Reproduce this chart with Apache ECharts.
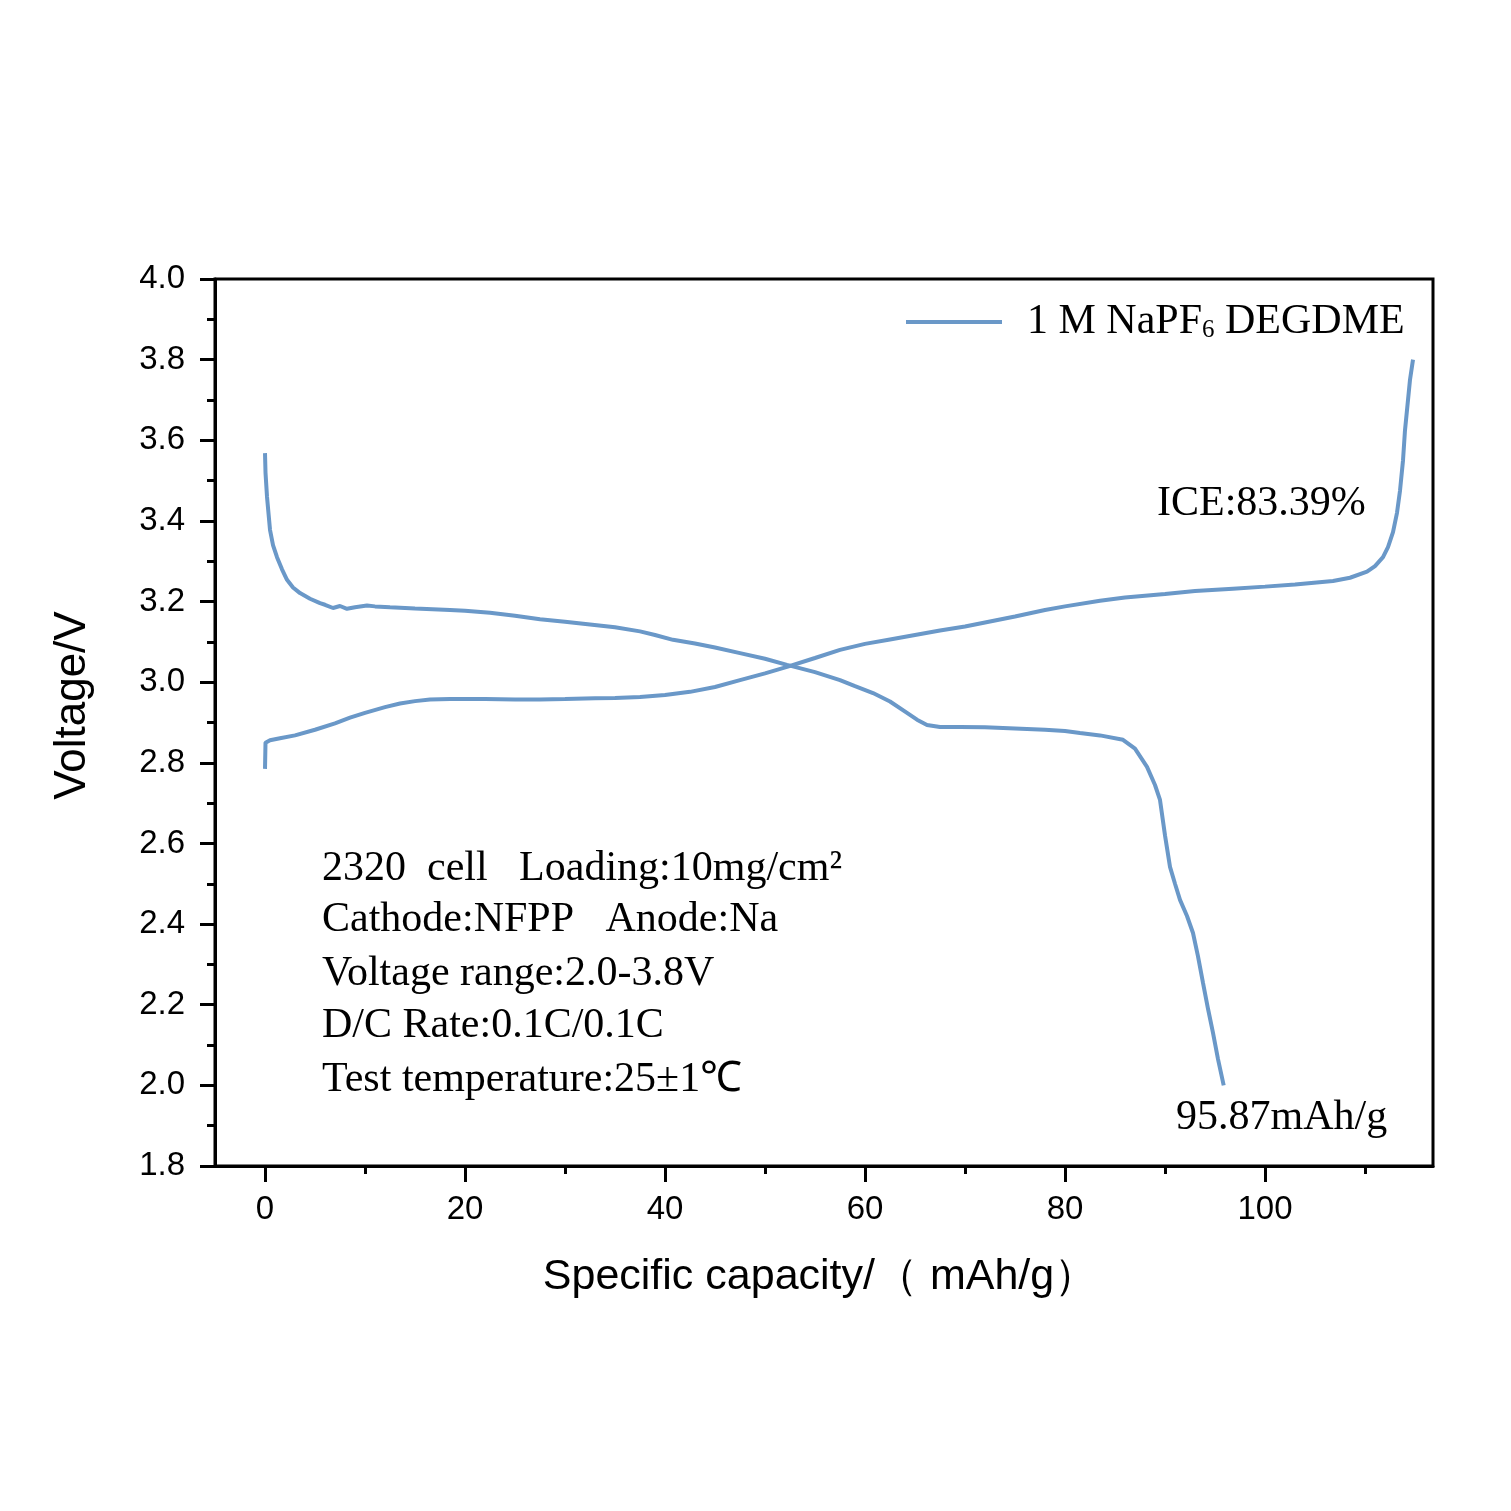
<!DOCTYPE html>
<html>
<head>
<meta charset="utf-8">
<script src="https://cdn.jsdelivr.net/npm/echarts@6/dist/echarts.min.js"></script>
<style>html,body{margin:0;padding:0;background:#fff}#c{width:1511px;height:1511px}</style>
</head>
<body>
<div id="c"></div>
<script>
// ---- data (specific capacity mAh/g, voltage V) ----
const chargeCap = [0,0.05,0.5,1.5,3,5,7,8.5,10,12,13.5,15,16.5,18.5,22,25,27.5,30,33,35,37.5,40,42.5,45,47.5,50,52.2,55,57.5,60,62.5,65,67.5,70,72,75,78,80,83.5,86,90,93,96.8,100,103,106.8,108.5,110.2,111,111.8,112.3,112.8,113.2,113.5,113.8,114,114.3,114.5,114.8];
const chargeV   = [2.785,2.85,2.856,2.861,2.868,2.882,2.898,2.912,2.924,2.938,2.947,2.953,2.957,2.958,2.958,2.957,2.957,2.958,2.960,2.961,2.963,2.968,2.976,2.988,3.005,3.022,3.038,3.060,3.080,3.095,3.106,3.117,3.128,3.138,3.148,3.163,3.179,3.188,3.202,3.210,3.219,3.226,3.232,3.237,3.242,3.251,3.259,3.274,3.288,3.31,3.335,3.372,3.42,3.475,3.55,3.625,3.70,3.75,3.80];
const dischargeCap = [0,0.05,0.2,0.5,0.8,1.2,1.7,2.2,2.8,3.5,4.5,5.5,6,6.8,7.5,8.2,9,10.2,11,12.5,15,18.5,20,22.5,25,27.5,30,32.5,35,37.5,39,40.8,43,45,47.5,50,52.2,55,57.5,59,60.8,62.5,64.2,65.2,66.2,67.5,69.5,72,75,78,80,81.5,83.5,85.8,87,88.2,89,89.5,90,90.5,91,91.5,92.2,92.8,93.3,93.8,94.3,94.8,95.3,95.87];
const dischargeV   = [3.568,3.52,3.46,3.378,3.34,3.31,3.28,3.254,3.235,3.221,3.207,3.196,3.192,3.184,3.189,3.182,3.186,3.190,3.188,3.186,3.183,3.179,3.177,3.172,3.165,3.156,3.150,3.143,3.136,3.126,3.117,3.105,3.096,3.086,3.072,3.058,3.043,3.025,3.005,2.990,2.973,2.952,2.924,2.907,2.894,2.889,2.889,2.888,2.885,2.882,2.879,2.874,2.868,2.857,2.835,2.79,2.745,2.708,2.62,2.542,2.50,2.46,2.42,2.378,2.32,2.254,2.19,2.13,2.065,2.0];
const xMajorTicks = [0,20,40,60,80,100];
const xMinorTicks = [10,30,50,70,90,110];
const seriesName = '1 M NaPF6 DEGDME';
const infoLines = ['2320  cell   Loading:10mg/cm²','Cathode:NFPP   Anode:Na','Voltage range:2.0-3.8V','D/C Rate:0.1C/0.1C','Test temperature:25±1℃'];
const iceText = 'ICE:83.39%';
const capText = '95.87mAh/g';

const color = '#6a98c8';
const zip = (a,b) => a.map((v,i)=>[v,b[i]]);
const chart = echarts.init(document.getElementById('c'));
const serif = '"Liberation Serif","Times New Roman",serif';
const sans = '"Liberation Sans",Arial,sans-serif';

const graphics = [];
const lineYs = [869,920,974,1026,1080];
infoLines.forEach((t,i)=>graphics.push({type:'text',left:322,top:lineYs[i]-21,style:{text:t,font:'42px '+serif,fill:'#000'}}));
graphics.push({type:'text',left:1157,top:504-21,style:{text:iceText,font:'42px '+serif,fill:'#000'}});
graphics.push({type:'text',left:1176,top:1118-21,style:{text:capText,font:'42px '+serif,fill:'#000'}});

chart.setOption({
  animation:false,
  backgroundColor:'#fff',
  grid:{left:215,top:279,width:1218,height:887,show:true,borderColor:'#000',borderWidth:3,backgroundColor:'transparent'},
  legend:{
    left:906, top:301, padding:0, icon:'rect', itemWidth:96, itemHeight:4,
    data:[seriesName],
    formatter: ()=> '1 M NaPF{sub|6} DEGDME',
    textStyle:{fontFamily:serif,fontSize:42,color:'#000',padding:[0,0,0,20],
      rich:{sub:{fontFamily:serif,fontSize:25,verticalAlign:'bottom',padding:[14,0,0,0]}}}
  },
  xAxis:[{
    type:'value', min:-5, max:116.8, position:'bottom',
    name:'Specific capacity/（ mAh/g）', nameLocation:'middle', nameGap:90,
    nameTextStyle:{fontFamily:sans,fontSize:43,color:'#000',padding:[0,8,0,0]},
    axisLine:{show:true,onZero:false,lineStyle:{color:'#000',width:3}},
    axisTick:{show:true,inside:false,length:16,lineStyle:{width:3,color:'#000'},customValues:xMajorTicks},
    axisLabel:{show:true,margin:27,fontFamily:sans,fontSize:33,color:'#000',customValues:xMajorTicks},
    splitLine:{show:false}
  },{
    type:'value', min:-5, max:116.8, position:'bottom',
    axisLine:{show:false,onZero:false},
    axisTick:{show:true,inside:false,length:8,lineStyle:{width:3,color:'#000'},customValues:xMinorTicks},
    axisLabel:{show:false},
    splitLine:{show:false}
  }],
  yAxis:{
    type:'value', min:1.8, max:4.0, interval:0.2,
    name:'Voltage/V', nameLocation:'middle', nameGap:120,
    nameTextStyle:{fontFamily:sans,fontSize:44,color:'#000',padding:[0,0,0,34]},
    axisLine:{show:true,onZero:false,lineStyle:{color:'#000',width:3}},
    axisTick:{show:true,inside:false,length:15,lineStyle:{width:3,color:'#000'}},
    minorTick:{show:true,splitNumber:2,length:8,lineStyle:{width:3,color:'#000'}},
    axisLabel:{margin:30,fontFamily:sans,fontSize:33,color:'#000',formatter:v=>v.toFixed(1)},
    splitLine:{show:false}
  },
  series:[
    {name:seriesName,type:'line',data:zip(chargeCap,chargeV),showSymbol:false,symbol:'none',lineStyle:{color:color,width:4},itemStyle:{color:color}},
    {name:seriesName,type:'line',data:zip(dischargeCap,dischargeV),showSymbol:false,symbol:'none',lineStyle:{color:color,width:4},itemStyle:{color:color}}
  ],
  graphic:graphics
});
</script>
</body>
</html>
